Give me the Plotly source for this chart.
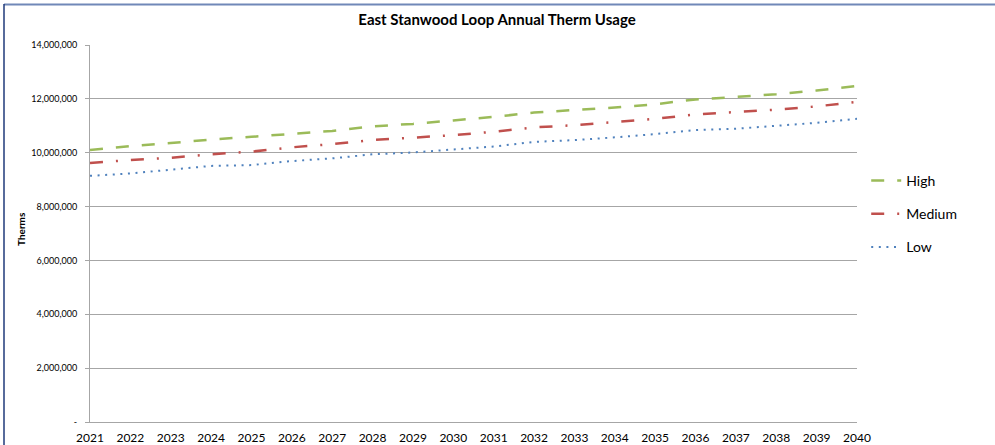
import plotly.graph_objects as go

years = [str(y) for y in range(2021, 2041)]
high = [10.10, 10.25, 10.36, 10.49, 10.59, 10.70, 10.81, 10.98, 11.07, 11.20,
        11.33, 11.49, 11.58, 11.68, 11.80, 11.98, 12.07, 12.17, 12.31, 12.48]
medium = [9.62, 9.73, 9.81, 9.94, 10.04, 10.20, 10.32, 10.47, 10.56, 10.65,
          10.78, 10.94, 11.02, 11.15, 11.26, 11.42, 11.51, 11.60, 11.72, 11.89]
low = [9.14, 9.23, 9.37, 9.51, 9.54, 9.69, 9.79, 9.94, 10.01, 10.11,
       10.23, 10.40, 10.47, 10.57, 10.69, 10.84, 10.89, 11.00, 11.11, 11.26]
high = [v * 1e6 for v in high]
medium = [v * 1e6 for v in medium]
low = [v * 1e6 for v in low]

ytick_vals = [0, 2e6, 4e6, 6e6, 8e6, 10e6, 12e6, 14e6]
ytick_text = ["-", "2,000,000", "4,000,000", "6,000,000", "8,000,000",
              "10,000,000", "12,000,000", "14,000,000"]

FONT = "Lato, 'Open Sans', sans-serif"

fig = go.Figure()
fig.add_trace(go.Scatter(x=years, y=high, name="High", mode="lines", legendgroup="h",
                         line=dict(color="#9BBB59", width=2.5, dash="13px,13px")))
fig.add_trace(go.Scatter(x=years, y=medium, name="Medium", mode="lines", legendgroup="m",
                         line=dict(color="#C0504D", width=2.5, dash="13px,13px,2px,13px")))
fig.add_trace(go.Scatter(x=years, y=low, name="Low", mode="lines", legendgroup="l",
                         line=dict(color="#4F81BD", width=2, dash="2px,5.6px")))

fig.update_layout(
    width=995, height=445,
    margin=dict(l=90, r=138, t=45, b=23, autoexpand=False),
    paper_bgcolor="white", plot_bgcolor="white",
    font=dict(family=FONT, color="#000000"),
    title=dict(text="<b>East Stanwood Loop Annual Therm Usage</b>",
               x=497 / 995, xanchor="center", y=1 - 20 / 445, yanchor="middle",
               font=dict(size=15, family=FONT, color="#000000")),
    showlegend=True,
    legend=dict(x=1.012, xanchor="left", y=(422 - 214) / 377, yanchor="middle",
                font=dict(size=14, family=FONT, color="#000000"),
                tracegroupgap=12, itemwidth=30, bgcolor="rgba(0,0,0,0)"),
    xaxis=dict(type="category", showgrid=False, showline=True, linecolor="#A6A6A6",
               linewidth=1, ticks="", ticklabelstandoff=5, automargin=False,
               tickfont=dict(size=12, family=FONT, color="#000000")),
    yaxis=dict(range=[0, 14e6], tickvals=ytick_vals, ticktext=ytick_text,
               showgrid=True, gridcolor="#A6A6A6", gridwidth=1,
               showline=True, linecolor="#A6A6A6", linewidth=1, automargin=False,
               ticks="outside", ticklen=4, tickcolor="#A6A6A6", ticklabelstandoff=6,
               tickfont=dict(size=9, family=FONT, color="#000000"), zeroline=False),
    annotations=[dict(text="<b>Therms</b>", xref="paper", yref="paper",
                      x=(21 - 90) / 767, y=(422 - 229) / 377, textangle=-90,
                      showarrow=False, xanchor="center", yanchor="middle",
                      font=dict(size=10, family=FONT, color="#000000"))],
    shapes=[
        dict(type="line", xref="paper", yref="paper",
             x0=(4 - 90) / 767, x1=(995 - 90) / 767, y0=(422 - 4.5) / 377, y1=(422 - 4.5) / 377,
             line=dict(color="#7088B8", width=2)),
        dict(type="line", xref="paper", yref="paper",
             x0=(4 - 90) / 767, x1=(4 - 90) / 767, y0=(422 - 4) / 377, y1=(422 - 446) / 377,
             line=dict(color="#1F3A7A", width=1.5)),
    ],
)

fig.write_html("out.html", config={"displayModeBar": False},
               post_script="document.body.style.margin='0';document.body.style.padding='0';")
